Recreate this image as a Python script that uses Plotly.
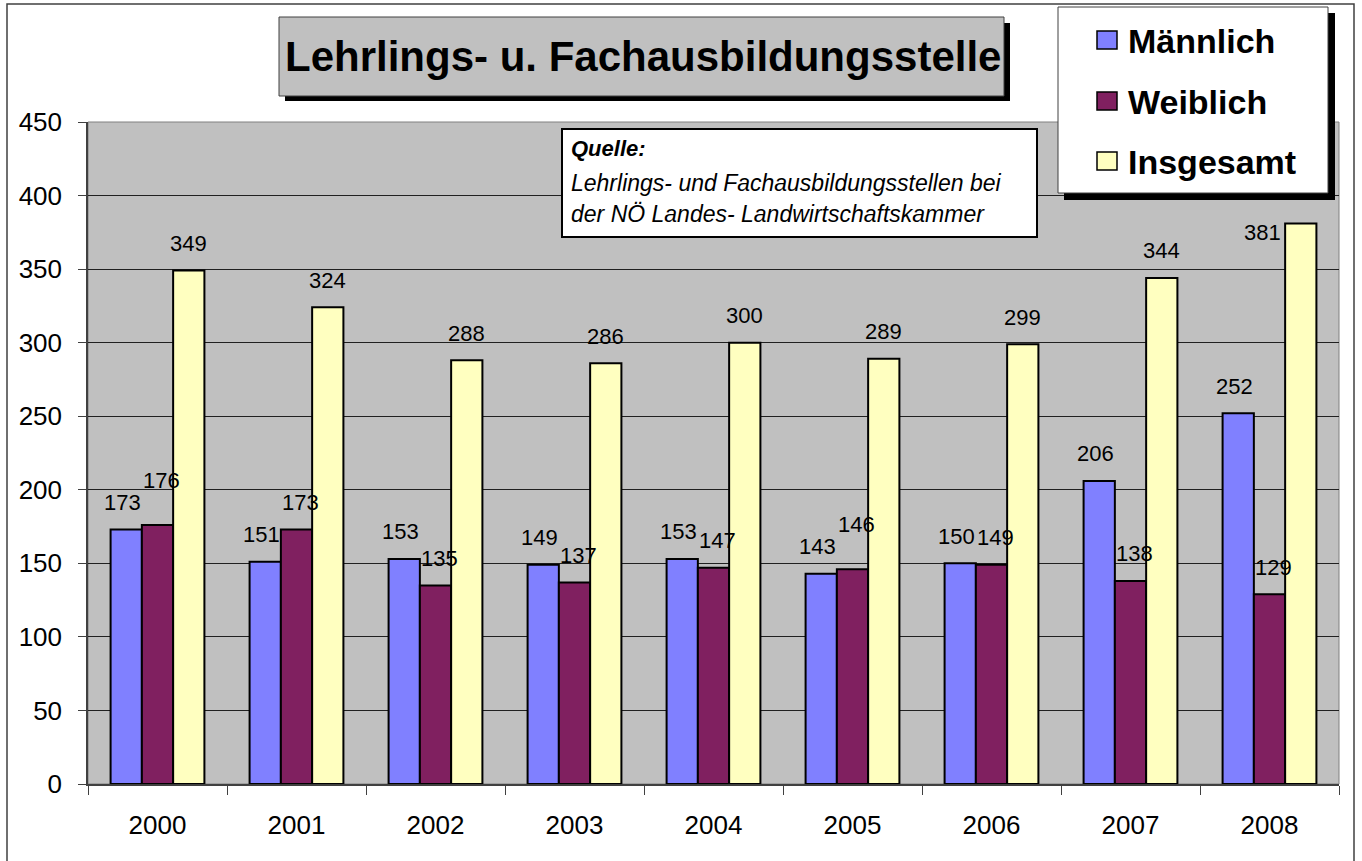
import plotly.graph_objects as go

# ---------------- data ----------------
years = ["2000", "2001", "2002", "2003", "2004", "2005", "2006", "2007", "2008"]
maennlich = [173, 151, 153, 149, 153, 143, 150, 206, 252]
weiblich = [176, 173, 135, 137, 147, 146, 149, 138, 129]
insgesamt = [349, 324, 288, 286, 300, 289, 299, 344, 381]
series_names = ["Männlich", "Weiblich", "Insgesamt"]
y_tick_values = [0, 50, 100, 150, 200, 250, 300, 350, 400, 450]
title_text = "Lehrlings- u. Fachausbildungsstelle"
source_title = "Quelle:"
source_lines = ["Lehrlings- und Fachausbildungsstellen bei",
                "der NÖ Landes- Landwirtschaftskammer"]

# ---------------- styles ----------------
W, H = 1362, 861
ML, MR, MT, MB = 88, 23, 122, 77
PW, PH = W - ML - MR, H - MT - MB
colors = ["#8080FF", "#802060", "#FFFFC0"]
FONT = "Arial, Liberation Sans, sans-serif"
BARGAP = 0.325
YMAX = 450
LABEL_FS = 22
LABEL_H = 20          # approx. pixel height of a value label
LABEL_LIFT = 27       # label centre above bar top (px)
LEGEND_BOX = (1058, 7, 1328, 193)   # left, top, right, bottom (px)


def px(x):
    return (x - ML) / PW


def py(y):
    return (H - MB - y) / PH


def val_to_px(v):
    return H - MB - v / YMAX * PH


fig = go.Figure()
all_series = [maennlich, weiblich, insgesamt]
for name, vals, col in zip(series_names, all_series, colors):
    fig.add_trace(go.Bar(
        x=years, y=vals, name=name,
        marker=dict(color=col, line=dict(color="black", width=2)),
        showlegend=False,
    ))

# value labels (annotations anchored at each bar top, simple collision handling)
cat_px = PW / len(years)
bar_px = cat_px * (1 - BARGAP) / 3
annotations = []
label_dx = [-4, 4, 0]
for k in range(len(years)):
    vals = [s[k] for s in all_series]
    lifts = [LABEL_LIFT] * 3
    # if the female label would collide with the male label, lift it above
    yb = val_to_px(vals[0]) - lifts[0]
    yw = val_to_px(vals[1]) - lifts[1]
    if vals[1] >= vals[0] and abs(yb - yw) < LABEL_H:
        lifts[1] = val_to_px(vals[1]) - (yb - LABEL_H - 2)
    for i in range(3):
        v = vals[i]
        xshift = (i - 1) * bar_px + label_dx[i]
        yshift = lifts[i]
        xanchor = "center"
        cx = ML + (k + 0.5) * cat_px + xshift
        cy = val_to_px(v) - yshift
        # keep labels out of the legend box: put it beside the bar instead
        if (cy - LABEL_H / 2 < LEGEND_BOX[3] + 10 and cx + 20 > LEGEND_BOX[0]):
            xshift = (i - 1) * bar_px - bar_px / 2 - 2
            xanchor = "right"
            yshift = -9
        annotations.append(dict(
            x=k, y=v, xref="x", yref="y", text=str(v), showarrow=False,
            xshift=xshift, yshift=yshift,
            yanchor="middle", xanchor=xanchor,
            font=dict(family=FONT, size=LABEL_FS, color="black"),
        ))

shapes = []
# outer chart border
shapes.append(dict(type="rect", xref="paper", yref="paper",
                   x0=px(7), x1=px(1354), y0=py(880), y1=py(4),
                   line=dict(color="#404040", width=1.5), fillcolor="rgba(0,0,0,0)", layer="above"))
# plot area border
shapes.append(dict(type="rect", xref="paper", yref="paper", x0=0, x1=1, y0=0, y1=1,
                   line=dict(color="#808080", width=1), layer="below"))

# title box with shadow
shapes.append(dict(type="rect", xref="paper", yref="paper",
                   x0=px(285), x1=px(1010), y0=py(101), y1=py(23),
                   line=dict(width=0), fillcolor="black", layer="above"))
shapes.append(dict(type="rect", xref="paper", yref="paper",
                   x0=px(279), x1=px(1004), y0=py(96), y1=py(17),
                   line=dict(color="#404040", width=1), fillcolor="#C0C0C0", layer="above"))
annotations.append(dict(x=px(643), y=py(56), xref="paper", yref="paper",
                        text="<b>" + title_text + "</b>", showarrow=False,
                        xanchor="center", yanchor="middle",
                        font=dict(family=FONT, size=42, color="black")))

# legend box with shadow (custom)
lb = LEGEND_BOX
shapes.append(dict(type="rect", xref="paper", yref="paper",
                   x0=px(lb[0] + 6), x1=px(lb[2] + 7), y0=py(lb[3] + 7), y1=py(lb[1] + 6),
                   line=dict(width=0), fillcolor="black", layer="above"))
shapes.append(dict(type="rect", xref="paper", yref="paper",
                   x0=px(lb[0]), x1=px(lb[2]), y0=py(lb[3]), y1=py(lb[1]),
                   line=dict(color="#404040", width=1), fillcolor="white", layer="above"))
row_y = [40, 101, 161]
for name, col, ry in zip(series_names, colors, row_y):
    shapes.append(dict(type="rect", xref="paper", yref="paper",
                       x0=px(1097), x1=px(1117), y0=py(ry + 9), y1=py(ry - 9),
                       line=dict(color="black", width=1.5), fillcolor=col, layer="above"))
    annotations.append(dict(x=px(1126), y=py(ry + 1), xref="paper", yref="paper",
                            text="<b>" + name + "</b>", showarrow=False,
                            xanchor="left", yanchor="middle",
                            font=dict(family=FONT, size=34, color="black")))

# source box
shapes.append(dict(type="rect", xref="paper", yref="paper",
                   x0=px(562), x1=px(1037), y0=py(237), y1=py(129),
                   line=dict(color="black", width=2), fillcolor="white", layer="above"))
annotations.append(dict(x=px(569), y=py(148), xref="paper", yref="paper",
                        text="<b><i>" + source_title + "</i></b>", showarrow=False,
                        xanchor="left", yanchor="middle",
                        font=dict(family=FONT, size=22, color="black")))
for ln, ly in zip(source_lines, [183, 214]):
    annotations.append(dict(x=px(569), y=py(ly), xref="paper", yref="paper",
                            text="<i>" + ln + "</i>", showarrow=False,
                            xanchor="left", yanchor="middle",
                            font=dict(family=FONT, size=23, color="black")))

fig.update_layout(
    width=W, height=H,
    margin=dict(l=ML, r=MR, t=MT, b=MB, pad=0, autoexpand=False),
    paper_bgcolor="white", plot_bgcolor="#C0C0C0",
    barmode="group", bargap=BARGAP, bargroupgap=0,
    shapes=shapes, annotations=annotations,
    showlegend=False,
    font=dict(family=FONT, color="black"),
)
fig.update_xaxes(
    type="category", range=[-0.5, len(years) - 0.5], autorange=False,
    tickson="boundaries", ticks="outside", ticklen=9,
    tickcolor="#404040", tickwidth=1, tickangle=0, automargin=False,
    showline=True, linecolor="#404040", linewidth=2,
    showgrid=False, tickfont=dict(family=FONT, size=26, color="black"),
    ticklabelstandoff=17,
)
fig.update_yaxes(
    range=[0, YMAX], autorange=False, tickvals=y_tick_values, ticks="outside", ticklen=8,
    tickcolor="#404040", tickwidth=1, automargin=False,
    showline=True, linecolor="#404040", linewidth=1.5,
    showgrid=True, gridcolor="#202020", gridwidth=1, zeroline=False,
    tickfont=dict(family=FONT, size=26, color="black"),
    ticklabelstandoff=11,
)

fig.write_html("out.html", config={"displayModeBar": False},
               post_script="document.body.style.margin='0px';")
